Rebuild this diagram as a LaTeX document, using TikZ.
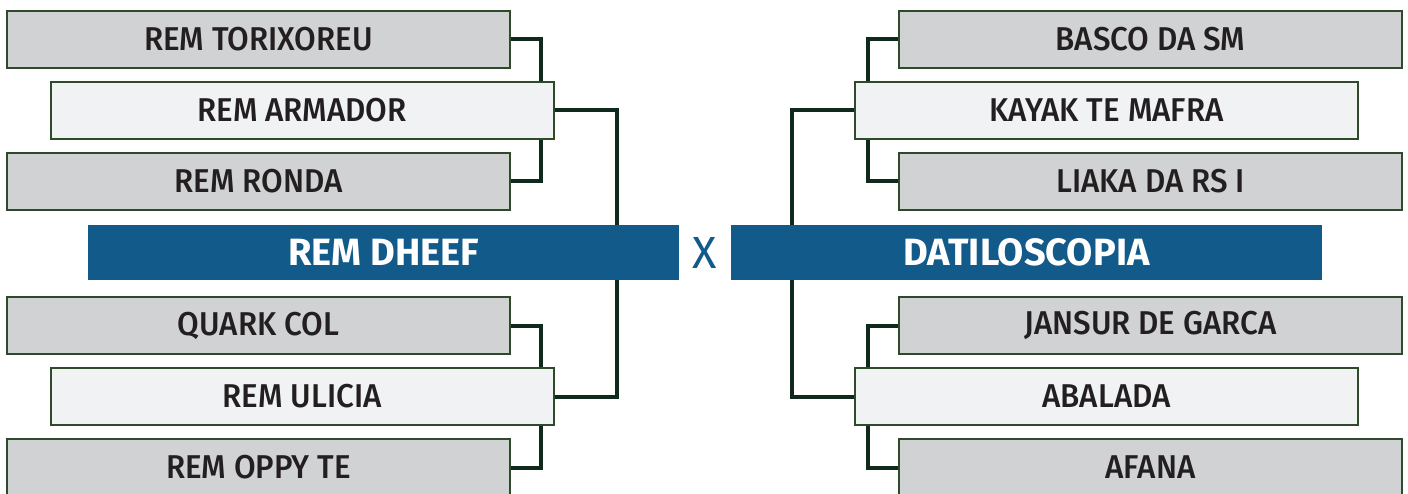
\documentclass[tikz,border=0pt]{standalone}
\usepackage{fontspec}
\setmainfont{Fira Sans}
\newfontfamily\boxfont{Fira Sans}[UprightFont=* Medium, FakeStretch=0.95]
\usetikzlibrary{calc}
\definecolor{boxgray}{HTML}{D1D2D4}
\definecolor{boxlight}{HTML}{F1F2F4}
\definecolor{boxedge}{HTML}{2F4A2A}
\definecolor{connc}{HTML}{0F2A1C}
\definecolor{barblue}{HTML}{115A8A}
\definecolor{txt}{HTML}{231F20}
\tikzset{
  teambox/.style={draw=boxedge, line width=2pt, fill=boxgray, minimum width=503pt, minimum height=57pt, inner sep=0pt, text=txt, font=\boxfont\fontsize{33}{33}\selectfont},
  winbox/.style={teambox, fill=boxlight},
  finalbar/.style={fill=barblue, minimum width=591pt, minimum height=55pt, inner sep=0pt, text=white, font=\fontsize{38}{38}\selectfont\bfseries},
  conn/.style={draw=connc, line width=4pt},
}
\begin{document}
\begin{tikzpicture}[x=1pt,y=-1pt]
\useasboundingbox (0,0) rectangle (1408,494);
\fill[white] (0,0) rectangle (1408,494);
\coordinate (le) at (541,0);
\coordinate (lx) at (617,0);
\coordinate (re) at (868,0);
\coordinate (rx) at (792,0);
\node[finalbar] (dheef) at (383.5,252.5) {REM DHEEF};
\node[finalbar] (dati) at (1026.5,252.5) {DATILOSCOPIA};
\node[teambox] (t1) at (258.5,39.5) {REM TORIXOREU};
\node[winbox] (a1) at (302,110.5) {REM ARMADOR};
\node[teambox] (r1) at (258.5,181.5) {REM RONDA};
\node[teambox] (q1) at (258.5,325.5) {QUARK COL};
\node[winbox] (u1) at (302,396.5) {REM ULICIA};
\node[teambox] (o1) at (258.5,467.5) {REM OPPY TE};
\node[teambox] (b1) at (1150.5,39.5) {BASCO DA SM};
\node[winbox] (k1) at (1106.5,110.5) {KAYAK TE MAFRA};
\node[teambox] (l1) at (1150.5,181.5) {LIAKA DA RS I};
\node[teambox] (j1) at (1150.5,325.5) {JANSUR DE GARCA};
\node[winbox] (ab) at (1106.5,396.5) {ABALADA};
\node[teambox] (af) at (1150.5,467.5) {AFANA};
\node[text=barblue, font=\fontsize{45}{45}\selectfont] (vs) at (705,253) {X};
\draw[conn] (t1.east) -| (le |- a1.north);
\draw[conn] (r1.east) -| (le |- a1.south);
\draw[conn] (a1.east) -| (lx |- dheef.north);
\draw[conn] (q1.east) -| (le |- u1.north);
\draw[conn] (o1.east) -| (le |- u1.south);
\draw[conn] (u1.east) -| (lx |- dheef.south);
\draw[conn] (b1.west) -| (re |- k1.north);
\draw[conn] (l1.west) -| (re |- k1.south);
\draw[conn] (k1.west) -| (rx |- dati.north);
\draw[conn] (j1.west) -| (re |- ab.north);
\draw[conn] (af.west) -| (re |- ab.south);
\draw[conn] (ab.west) -| (rx |- dati.south);
\end{tikzpicture}
\end{document}
